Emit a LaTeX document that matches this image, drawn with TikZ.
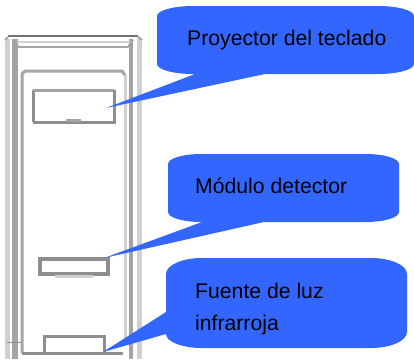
\documentclass[tikz,border=0pt]{standalone}
\usepackage{fontspec}
\setmainfont{Liberation Sans}
\definecolor{calloutblue}{HTML}{3366FF}
\definecolor{lightline}{HTML}{D0D0D0}
\definecolor{midline}{HTML}{A4A4A4}
\definecolor{darkline}{HTML}{8E8E8E}
\tikzset{
  calloutbody/.style={fill=calloutblue,draw=none},
  calloutlabel/.style={anchor=base west,inner sep=0pt,font=\fontsize{21.2}{32}\selectfont},
  lightstroke/.style={draw=lightline,line width=3pt},
  midstroke/.style={draw=midline,line width=3pt},
  darkstroke/.style={draw=darkline,line width=3pt}
}
\begin{document}
\begin{tikzpicture}[x=1pt,y=-1pt]
\useasboundingbox (0,0) rectangle (414,359);
% housing
\fill[lightline] (5,39) rectangle (10,359);
\fill[midline] (12,39) rectangle (18,359);
\fill[midline] (129,39) rectangle (133,359);
\fill[lightline] (137,39) rectangle (142,359);
\draw[line width=2pt,draw=darkline!80!black] (8,36) -- (138,36);
\draw[lightstroke,line width=2pt] (15,42) -- (131,42);
\draw[midstroke,line width=2.4pt] (18,47) -- (128,47);
\draw[line width=2pt,draw=midline] (8,37) -- (5,40);
\draw[line width=2pt,draw=midline] (138,37) -- (142,40);
\draw[midstroke,line width=2pt] (15,40) -- (18,47);
\draw[midstroke,line width=2pt] (133,40) -- (128,47);
% inner frame
\draw[midstroke] (22,353) -- (22,74) -- (25,71) -- (122,71) -- (125,75);
\draw[lightstroke] (125,75) -- (125,344);
\draw[darkstroke] (22,353) -- (123,353);
\draw[darkline,line width=0.8pt] (7,342) -- (21,342);
% projector window
\draw[darkstroke] (33,122) -- (33,90);
\draw[midstroke] (33,90) -- (114,90);
\draw[darkstroke] (114,90) -- (114,122) -- (33,122);
\draw[midstroke] (66,120) -- (81,120);
% detector window
\draw[darkstroke,line width=3.4pt] (40,259) rectangle (108,274);
\draw[lightstroke] (55,276) -- (93,276);
% source window
\draw[darkstroke] (44,353) -- (44,336) -- (104,336) -- (104,353);
% callouts
\coordinate (tipproy) at (106,108);
\coordinate (tipmod) at (104,258);
\coordinate (tipluz) at (103,352);
\fill[calloutbody] (157,16) arc[start angle=180,end angle=270,x radius=36,y radius=10] -- (378,6)
  arc[start angle=-90,end angle=0,x radius=36,y radius=10] -- (414,64)
  arc[start angle=0,end angle=90,x radius=36,y radius=10] -- (265,74) -- (tipproy) -- (195,74) -- (193,74)
  arc[start angle=90,end angle=180,x radius=36,y radius=10] -- cycle;
\fill[calloutbody] (168,164) arc[start angle=180,end angle=270,x radius=33,y radius=10] -- (366,154)
  arc[start angle=-90,end angle=0,x radius=33,y radius=10] -- (399,212)
  arc[start angle=0,end angle=90,x radius=33,y radius=10] -- (264,222) -- (tipmod) -- (202,222) -- (201,222)
  arc[start angle=90,end angle=180,x radius=33,y radius=10] -- cycle;
\fill[calloutbody] (166,274) arc[start angle=180,end angle=270,x radius=36,y radius=16] -- (371,258)
  arc[start angle=-90,end angle=0,x radius=36,y radius=16] -- (407,332)
  arc[start angle=0,end angle=90,x radius=36,y radius=16] -- (202,348)
  arc[start angle=90,end angle=180,x radius=36,y radius=14] -- (tipluz) -- (166,312) -- cycle;
% labels
\node[calloutlabel] (proyector) at (187,45) {Proyector del teclado};
\node[calloutlabel] (modulo) at (195,193) {Módulo detector};
\node[calloutlabel] (fuente) at (195,298) {Fuente de luz};
\node[calloutlabel] (infrarroja) at (195,330) {infrarroja};
\end{tikzpicture}
\end{document}
